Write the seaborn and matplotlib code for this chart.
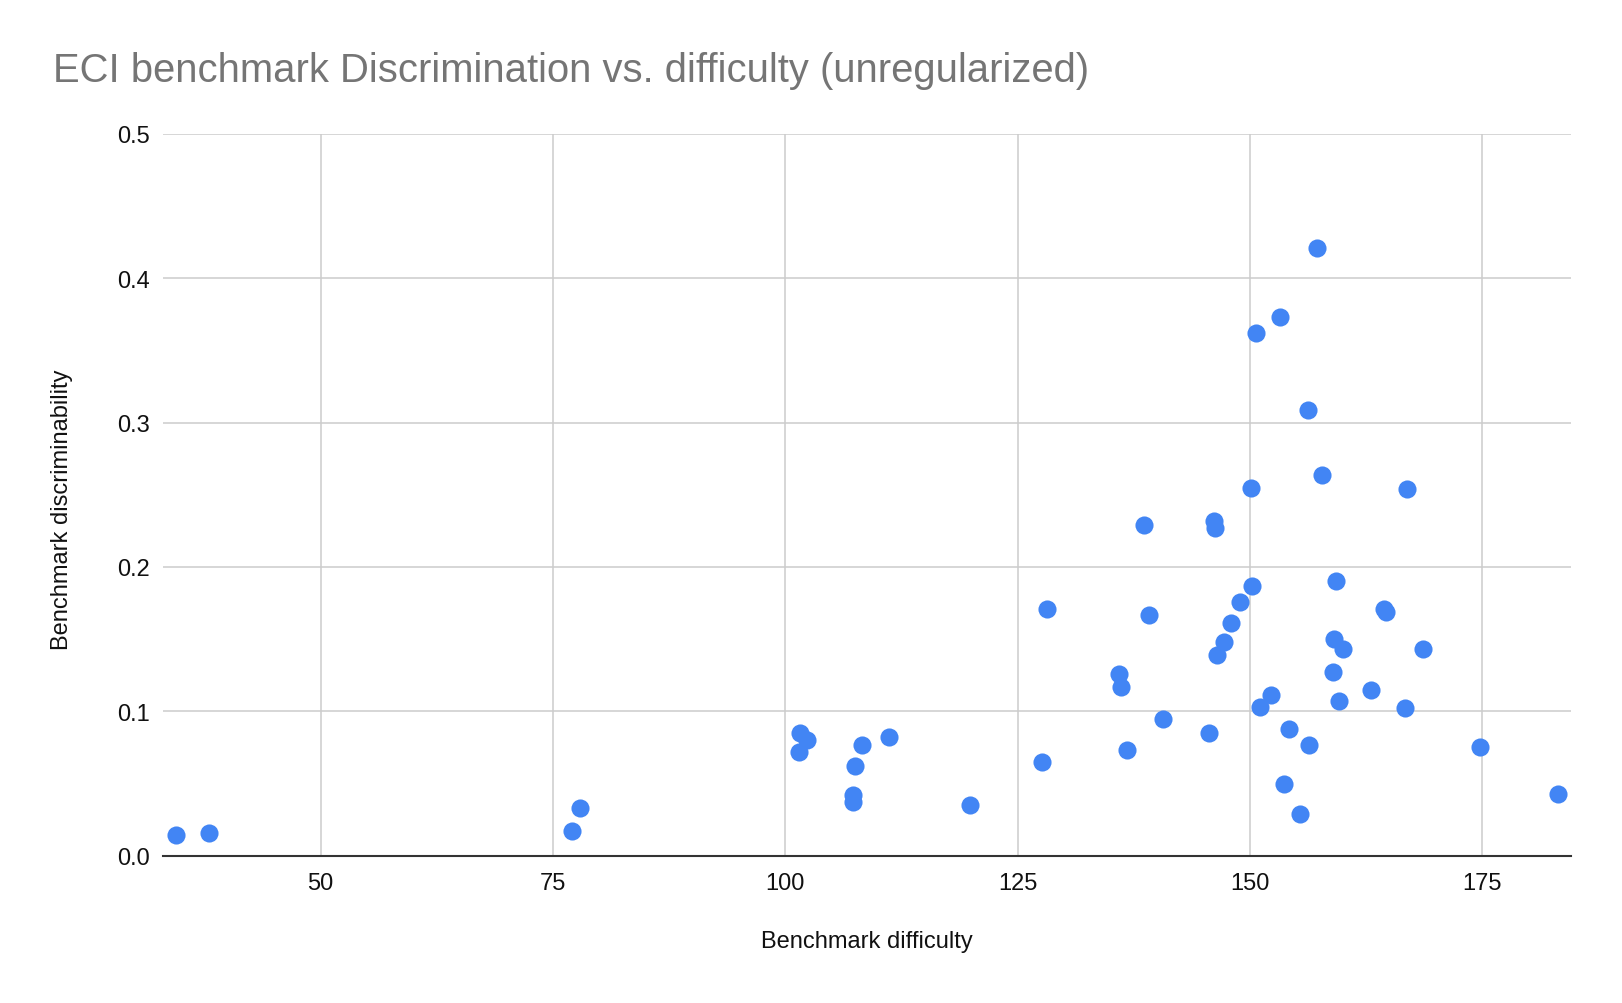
import numpy as np
import pandas as pd
import matplotlib
matplotlib.use("Agg")
import matplotlib.pyplot as plt
import seaborn as sns

# =========================
# DATA
# =========================

difficulty = [34.4, 38.0, 77.0, 77.9, 101.6, 102.3, 101.5, 108.2, 107.5, 107.3,
              107.3, 111.1, 119.9, 127.6, 128.2, 135.9, 136.1, 136.8, 138.6, 139.1,
              140.6, 145.6, 146.1, 146.2, 146.4, 147.2, 147.9, 148.9, 150.1, 150.2,
              150.6, 153.2, 151.1, 152.2, 154.2, 153.7, 155.4, 156.3, 156.2, 157.2,
              157.7, 159.0, 158.9, 159.2, 159.6, 160.0, 163.0, 164.4, 164.6, 166.7,
              166.9, 168.6, 174.7, 183.1]

discriminability = [0.014, 0.016, 0.017, 0.033, 0.085, 0.080, 0.072, 0.077, 0.062, 0.042,
                    0.037, 0.082, 0.035, 0.065, 0.171, 0.126, 0.117, 0.073, 0.229, 0.167,
                    0.095, 0.085, 0.232, 0.227, 0.139, 0.148, 0.161, 0.176, 0.255, 0.187,
                    0.362, 0.373, 0.103, 0.111, 0.088, 0.050, 0.029, 0.077, 0.309, 0.421,
                    0.264, 0.150, 0.127, 0.190, 0.107, 0.143, 0.115, 0.171, 0.169, 0.102,
                    0.254, 0.143, 0.075, 0.043]

x_ticks = [50, 75, 100, 125, 150, 175]
y_ticks = [0.0, 0.1, 0.2, 0.3, 0.4, 0.5]

df = pd.DataFrame({"Benchmark difficulty": difficulty,
                   "Benchmark discriminability": discriminability})

# =========================
# STYLE
# =========================

sns.set_style("white")
plt.rcParams["font.family"] = ["Liberation Sans", "DejaVu Sans"]

fig = plt.figure(figsize=(16.22, 10.04), dpi=100)
ax = fig.add_axes([0.1003, 0.1467, 0.9684 - 0.1003, 0.8658 - 0.1467])

# =========================
# SCATTER
# =========================

sns.scatterplot(data=df, x="Benchmark difficulty", y="Benchmark discriminability",
                color="#4285F4", s=170, linewidth=0, ax=ax, zorder=3)

ax.set_xlim(33.0, 184.5)
ax.set_ylim(0, 0.5)
ax.set_xticks(x_ticks)
ax.set_yticks(y_ticks)
ax.set_yticklabels([f"{v:.1f}" for v in y_ticks])

ax.grid(True, color="#cccccc", linewidth=1.1)
ax.set_axisbelow(True)
for side in ["left", "right", "top"]:
    ax.spines[side].set_visible(False)
ax.spines["bottom"].set_color("#333333")
ax.spines["bottom"].set_linewidth(1.5)
ax.spines["bottom"].set_zorder(2)

ax.tick_params(axis="x", length=0, pad=12, labelsize=17, labelcolor="#111111")
ax.tick_params(axis="y", length=0, pad=9, labelsize=17, labelcolor="#111111")

ax.set_xlabel("Benchmark difficulty", fontsize=17, color="#111111")
ax.set_ylabel("Benchmark discriminability", fontsize=17, color="#111111")
ax.xaxis.set_label_coords(0.5, -0.103)
ax.yaxis.set_label_coords(-0.064, 0.481)

fig.text(0.0325, 1 - 82 / 1004, "ECI benchmark Discrimination vs. difficulty (unregularized)",
         fontsize=28.8, color="#757575", ha="left", va="baseline")

plt.savefig("out.png", dpi=100)
plt.close()
